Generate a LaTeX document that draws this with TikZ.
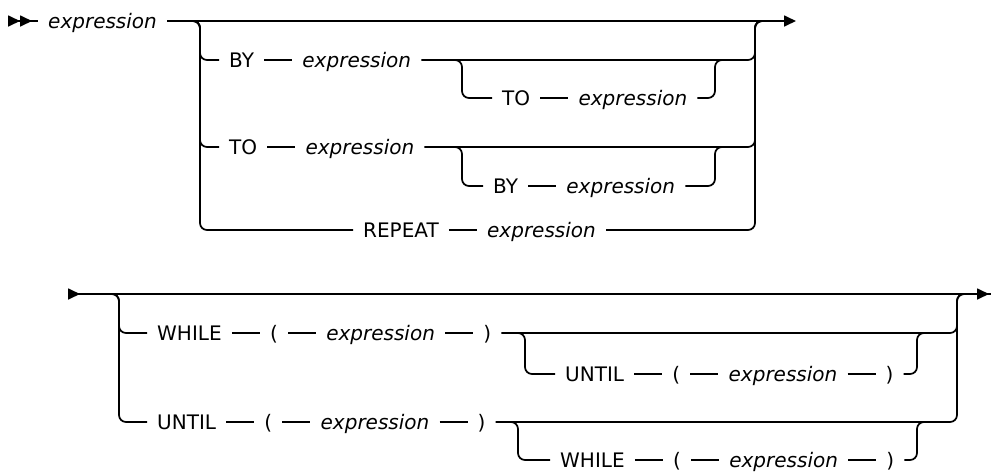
\documentclass[tikz,border=0pt]{standalone}
\usepackage{fontspec}
\setmainfont{DejaVu Sans}
\usetikzlibrary{positioning,arrows.meta}

\begin{document}
\begin{tikzpicture}[
    x=1pt, y=-1pt,
    node distance=28pt,
    kw/.style={inner xsep=10pt, inner ysep=0pt, text height=14pt, text depth=0pt,
               font=\fontsize{20}{24}\selectfont},
    var/.style={kw, font=\fontsize{20}{24}\selectfont\itshape},
    rail/.style={line width=1.7pt, rounded corners=7pt},
    head/.style={-{Triangle[length=12pt,width=11pt]}},
    tail/.style={{Triangle[reversed,length=12pt,width=11pt]Triangle[reversed,length=12pt,width=11pt]}-}
]
\useasboundingbox (0,0) rectangle (991,472);

\coordinate (b0) at (8,21);
\coordinate (f0) at (796,21);
\coordinate (l0) at (200,21);
\coordinate (r0) at (755,21);
\coordinate (li1) at (462,60);
\coordinate (ri1) at (715,60);
\coordinate (li2) at (462,147);
\coordinate (ri2) at (715,147);

\node[var, anchor=west] (e0) at (38,21) {expression};

\node[kw, anchor=west] (by1) at (219,60) {BY};
\node[var, right=of by1] (e1) {expression};
\node[kw, anchor=west] (to1) at (492,98) {TO};
\node[var, right=of to1] (e2) {expression};

\node[kw, anchor=west] (to2) at (219,147) {TO};
\node[var, right=of to2] (e3) {expression};
\node[kw, anchor=west] (by2) at (483,186) {BY};
\node[var, right=of by2] (e4) {expression};

\node[kw, anchor=west] (rep) at (353,230) {REPEAT};
\node[var, right=of rep] (e5) {expression};

\draw[rail, tail] (b0) -- (e0);
\draw[rail, head] (e0) -- (f0);

\draw[rail] (l0) ++(-10,0) -- (l0) |- (by1);
\draw[rail] (l0) ++(-10,0) -- (l0) |- (to2);
\draw[rail] (l0) ++(-10,0) -- (l0) |- (rep);

\draw[rail] (by1) -- (e1);
\draw[rail] (e1) -| (r0) -- ++(10,0);
\draw[rail] (li1) ++(-10,0) -- (li1) |- (to1);
\draw[rail] (to1) -- (e2);
\draw[rail] (e2) -| (ri1) -- ++(10,0);

\draw[rail] (to2) -- (e3);
\draw[rail] (e3) -| (r0) -- ++(10,0);
\draw[rail] (li2) ++(-10,0) -- (li2) |- (by2);
\draw[rail] (by2) -- (e4);
\draw[rail] (e4) -| (ri2) -- ++(10,0);

\draw[rail] (rep) -- (e5);
\draw[rail] (e5) -| (r0) -- ++(10,0);

\coordinate (b1) at (68,294);
\coordinate (f1) at (1001,294);
\coordinate (l1) at (119,294);
\coordinate (r1) at (957,294);
\coordinate (li3) at (525,333);
\coordinate (ri3) at (917,333);
\coordinate (li4) at (518,422);
\coordinate (ri4) at (917,422);

\draw[rail, {Triangle[reversed,length=12pt,width=11pt]}-{Triangle[length=12pt,width=11pt]Triangle[reversed,length=12pt,width=11pt]}] (b1) -- (f1);

\node[kw, anchor=west] (wh1) at (147,333) {WHILE};
\node[kw, right=of wh1] (op1) {(};
\node[var, right=of op1] (e6) {expression};
\node[kw, right=of e6] (cp1) {)};
\node[kw, anchor=west] (un1) at (555,374) {UNTIL};
\node[kw, right=of un1] (op2) {(};
\node[var, right=of op2] (e7) {expression};
\node[kw, right=of e7] (cp2) {)};

\node[kw, anchor=west] (un2) at (147,422) {UNTIL};
\node[kw, right=of un2] (op3) {(};
\node[var, right=of op3] (e8) {expression};
\node[kw, right=of e8] (cp3) {)};
\node[kw, anchor=west] (wh2) at (550,460) {WHILE};
\node[kw, right=of wh2] (op4) {(};
\node[var, right=of op4] (e9) {expression};
\node[kw, right=of e9] (cp4) {)};

\draw[rail] (l1) ++(-10,0) -- (l1) |- (wh1);
\draw[rail] (l1) ++(-10,0) -- (l1) |- (un2);

\draw[rail] (wh1) -- (op1);
\draw[rail] (op1) -- (e6);
\draw[rail] (e6) -- (cp1);
\draw[rail] (cp1) -| (r1) -- ++(10,0);
\draw[rail] (li3) ++(-10,0) -- (li3) |- (un1);
\draw[rail] (un1) -- (op2);
\draw[rail] (op2) -- (e7);
\draw[rail] (e7) -- (cp2);
\draw[rail] (cp2) -| (ri3) -- ++(10,0);

\draw[rail] (un2) -- (op3);
\draw[rail] (op3) -- (e8);
\draw[rail] (e8) -- (cp3);
\draw[rail] (cp3) -| (r1) -- ++(10,0);
\draw[rail] (li4) ++(-10,0) -- (li4) |- (wh2);
\draw[rail] (wh2) -- (op4);
\draw[rail] (op4) -- (e9);
\draw[rail] (e9) -- (cp4);
\draw[rail] (cp4) -| (ri4) -- ++(10,0);

\end{tikzpicture}
\end{document}
